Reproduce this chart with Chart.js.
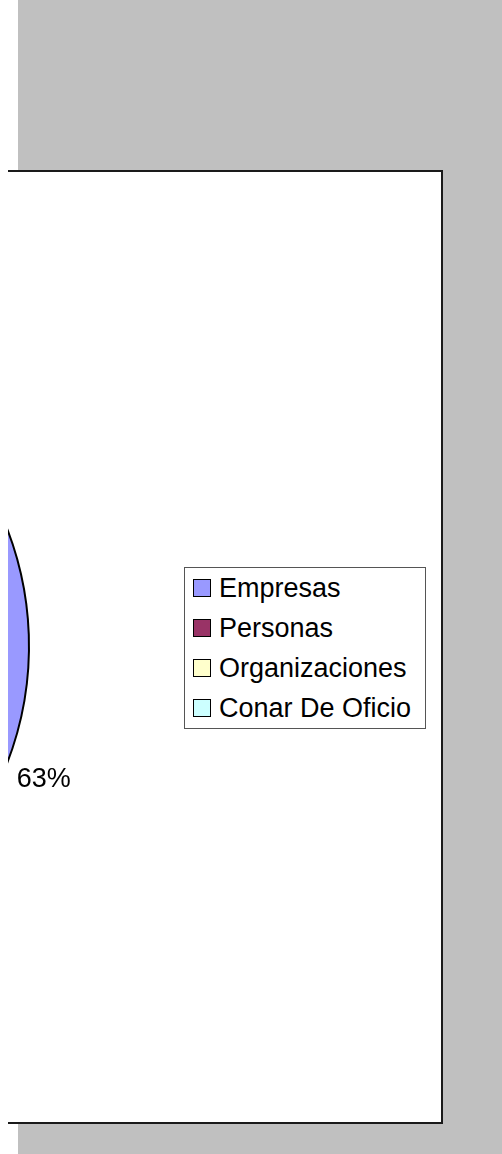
<!DOCTYPE html>
<html>
<head>
<meta charset="utf-8">
<script src="https://cdn.jsdelivr.net/npm/chart.js@4.4.0/dist/chart.umd.min.js"></script>
<style>
    html, body { margin: 0; padding: 0; }
    body {
        width: 502px; height: 1154px; position: relative; overflow: hidden;
        background: #ffffff;
        font-family: "Liberation Sans", Arial, sans-serif;
    }
    #backdrop { position: absolute; left: 18px; top: 0; width: 484px; height: 1154px; background: #c0c0c0; }
    #chart-box {
        position: absolute; left: 8px; top: 170px; width: 435px; height: 954px;
        box-sizing: border-box; background: #ffffff; overflow: hidden;
        border-top: 2px solid #1a1a1a; border-right: 2px solid #1a1a1a; border-bottom: 2px solid #1a1a1a;
    }
    #pie { position: absolute; left: -634px; top: 144px; }
    #legend {
        position: absolute; left: 176px; top: 395px; width: 242px;
        box-sizing: border-box; border: 1px solid #555; background: #fff;
        padding: 0 0 0 8px;
    }
    .row { display: flex; align-items: center; height: 40px; font-size: 27px; color: #000; white-space: nowrap; }
    .sw { width: 18px; height: 18px; box-sizing: border-box; border: 1px solid #000; margin-right: 8px; flex: none; }
</style>
</head>
<body>
<div id="backdrop"></div>
<div id="chart-box">
    <canvas id="pie" width="760" height="660"></canvas>
    <div id="legend"></div>
</div>
<script>
const categories = ['Empresas', 'Personas', 'Organizaciones', 'Conar De Oficio'];
const values = [63, 20, 12, 5];
const sliceColors = ['#9999ff', '#993366', '#ffffcc', '#ccffff'];

// percentage labels outside each slice, like Excel
const outsideLabels = {
    id: 'outsideLabels',
    afterDatasetsDraw(chart) {
        const ctx = chart.ctx;
        const meta = chart.getDatasetMeta(0);
        const data = chart.data.datasets[0].data;
        const total = data.reduce((a, b) => a + b, 0);
        ctx.save();
        ctx.font = '27px "Liberation Sans", Arial, sans-serif';
        ctx.fillStyle = '#000';
        ctx.textAlign = 'center';
        ctx.textBaseline = 'middle';
        meta.data.forEach((arc, i) => {
            const p = arc.getProps(['x', 'y', 'startAngle', 'endAngle', 'outerRadius'], true);
            const mid = (p.startAngle + p.endAngle) / 2;
            const d = p.outerRadius + 40;
            const txt = Math.round(data[i] / total * 100) + '%';
            ctx.fillText(txt, p.x + Math.cos(mid) * d, p.y + Math.sin(mid) * d);
        });
        ctx.restore();
    }
};

const chart = new Chart(document.getElementById('pie'), {
    type: 'pie',
    data: {
        labels: categories,
        datasets: [{
            data: values,
            backgroundColor: sliceColors,
            borderColor: '#000',
            borderWidth: 2
        }]
    },
    options: {
        responsive: false,
        animation: false,
        rotation: -2,
        layout: { padding: { left: 4, top: 4, right: 104, bottom: 4 } },
        plugins: { legend: { display: false }, tooltip: { enabled: false } }
    },
    plugins: [outsideLabels]
});

const legendEl = document.getElementById('legend');
chart.data.labels.forEach((lbl, i) => {
    const row = document.createElement('div');
    row.className = 'row';
    row.innerHTML = `<span class="sw" style="background:${chart.data.datasets[0].backgroundColor[i]}"></span><span>${lbl}</span>`;
    legendEl.appendChild(row);
});
</script>
</body>
</html>
